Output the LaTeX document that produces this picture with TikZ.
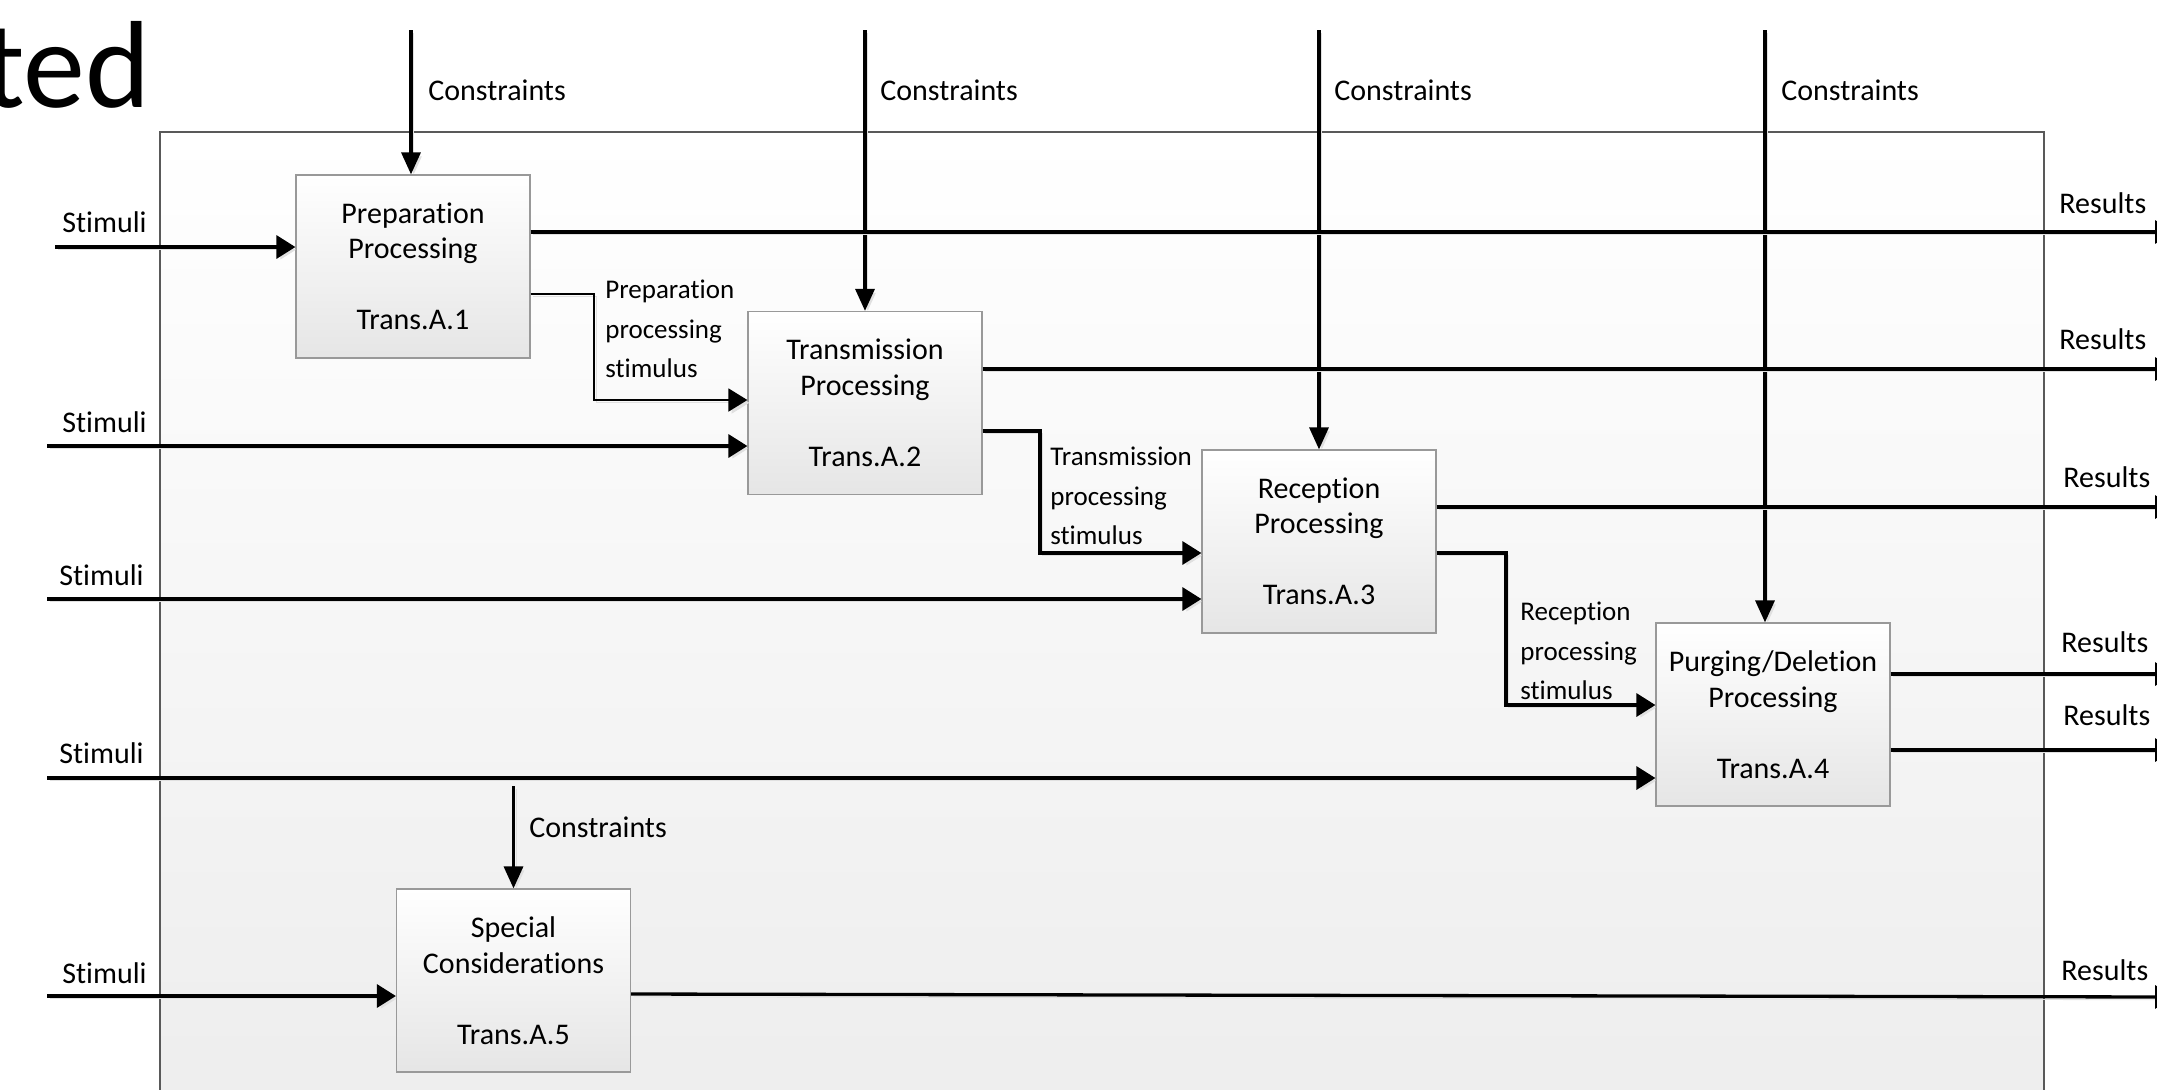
\documentclass[tikz,border=0pt]{standalone}
\usepackage{fontspec}
\setmainfont{Carlito}[RawFeature={-liga}]
\usetikzlibrary{arrows.meta,calc}
\begin{document}
\begin{tikzpicture}[x=0.5pt,y=-0.5pt,
  proc/.style={draw=black!40, line width=0.6pt, top color=white, bottom color=black!10,
    minimum width=117pt, minimum height=91.5pt, inner sep=0pt, align=center,
    font=\fontsize{15}{17.75}\selectfont},
  lbl/.style={inner sep=0pt, anchor=base west, font=\fontsize{15}{18}\selectfont},
  slbl/.style={inner sep=0pt, anchor=north west, align=left, font=\fontsize{13.5}{19.75}\selectfont},
  shadowed/.style={preaction={draw=black!12, transform canvas={shift={(1.4pt,-1.4pt)}}}},
  hflow/.style={shadowed, line width=1.65pt, -{Triangle[length=9.5pt,width=11.5pt]}},
  vflow/.style={shadowed, line width=1.65pt, -{Triangle[length=11pt,width=9.5pt]}},
  thinflow/.style={shadowed, line width=0.9pt, -{Triangle[length=9.5pt,width=11.5pt]}}
]
\useasboundingbox (0,0) rectangle (2157,1089);
% outer frame
\draw[top color=white, bottom color=black!7, draw=black!65, line width=0.7pt] (160,132) rectangle (2044,1110);
% title fragment
\node[inner sep=0pt, anchor=base east, font=\fontsize{62}{62}\selectfont] (title) at (151,107) {ted};
% boxes
\node[proc] (b1) at (413,266.5) {Preparation\\Processing\\[17.75pt]Trans.A.1};
\node[proc] (b2) at (865,403) {Transmission\\Processing\\[17.75pt]Trans.A.2};
\node[proc] (b3) at (1319,541.5) {Reception\\Processing\\[17.75pt]Trans.A.3};
\node[proc] (b4) at (1773,714.5) {Purging/Deletion\\Processing\\[17.75pt]Trans.A.4};
\node[proc] (b5) at (513.5,980.5) {Special\\Considerations\\[17.75pt]Trans.A.5};
% constraints
\coordinate (k1) at (411,30);
\coordinate (k2) at (865,30);
\coordinate (k3) at (1319,30);
\coordinate (k4) at (1765,30);
\coordinate (k5) at (513.5,786);
\draw[vflow] (k1) -- (k1 |- b1.north);
\draw[vflow] (k2) -- (k2 |- b2.north);
\draw[vflow] (k3) -- (k3 |- b3.north);
\draw[vflow] (k4) -- (k4 |- b4.north);
\draw[vflow] (k5) -- (k5 |- b5.north);
\node[lbl] (kl1) at (428,100) {Constraints};
\node[lbl] (kl2) at (880,100) {Constraints};
\node[lbl] (kl3) at (1334,100) {Constraints};
\node[lbl] (kl4) at (1781,100) {Constraints};
\node[lbl] (kl5) at (529,837) {Constraints};
% stimuli
\coordinate (s1) at (55,247);
\coordinate (s2) at (47,446);
\coordinate (s3) at (47,599);
\coordinate (s4) at (47,778);
\coordinate (s5) at (47,996);
\draw[hflow] (s1) -- (b1.west |- s1);
\draw[hflow] (s2) -- (b2.west |- s2);
\draw[hflow] (s3) -- (b3.west |- s3);
\draw[hflow] (s4) -- (b4.west |- s4);
\draw[hflow] (s5) -- (b5.west |- s5);
\node[lbl] (sl1) at (62,232) {Stimuli};
\node[lbl] (sl2) at (62,432) {Stimuli};
\node[lbl] (sl3) at (59,585) {Stimuli};
\node[lbl] (sl4) at (59,763) {Stimuli};
\node[lbl] (sl5) at (62,983) {Stimuli};
% results
\coordinate (r1) at (2174,232);
\coordinate (r2) at (2174,369);
\coordinate (r3) at (2174,507);
\coordinate (r4) at (2174,674);
\coordinate (r5) at (2174,750);
\coordinate (r6) at (2174,997);
\draw[hflow] (b1.east |- r1) -- (r1);
\draw[hflow] (b2.east |- r2) -- (r2);
\draw[hflow] (b3.east |- r3) -- (r3);
\draw[hflow] (b4.east |- r4) -- (r4);
\draw[hflow] (b4.east |- r5) -- (r5);
\draw[hflow] (b5.east |- 0,994) -- (r6);
\node[lbl] (rl1) at (2059,213) {Results};
\node[lbl] (rl2) at (2059,349) {Results};
\node[lbl] (rl3) at (2063,487) {Results};
\node[lbl] (rl4) at (2061,652) {Results};
\node[lbl] (rl5) at (2063,725) {Results};
\node[lbl] (rl6) at (2061,980) {Results};
% inter-process stimuli
\draw[thinflow] (b1.east |- 0,294) -- (594,294) -- (594,400) -- (b2.west |- 0,400);
\draw[hflow] (b2.east |- 0,431) -- (1040,431) -- (1040,553) -- (b3.west |- 0,553);
\draw[hflow] (b3.east |- 0,553) -- (1506,553) -- (1506,705) -- (b4.west |- 0,705);
\node[slbl] (pl1) at (605,280) {Preparation\\processing\\stimulus};
\node[slbl] (pl2) at (1050,447) {Transmission\\processing\\stimulus};
\node[slbl] (pl3) at (1520,602) {Reception\\processing\\stimulus};
\end{tikzpicture}
\end{document}
